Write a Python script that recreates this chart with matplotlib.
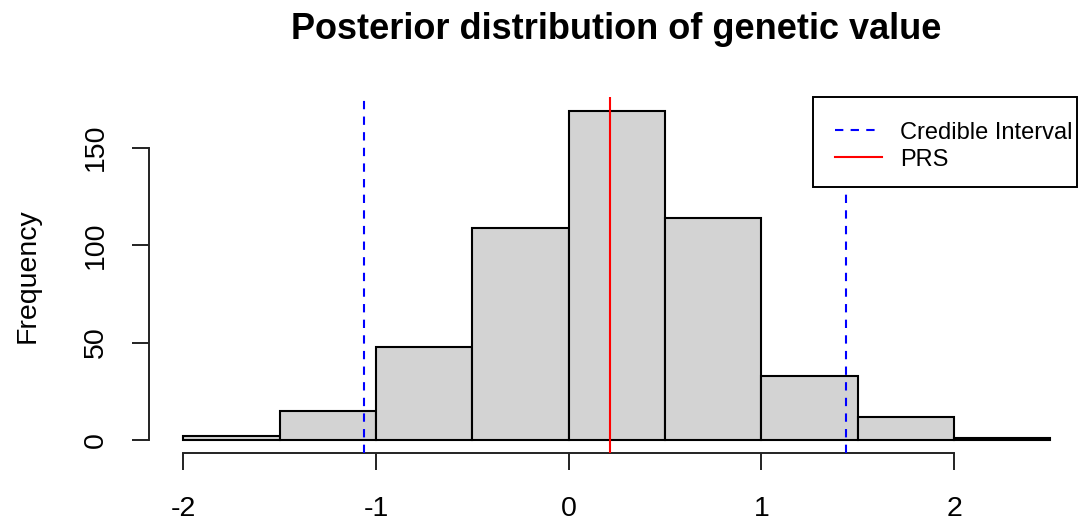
import matplotlib
matplotlib.use("Agg")
import matplotlib.pyplot as plt
from matplotlib.patches import Rectangle
from matplotlib.lines import Line2D

# Histogram of posterior draws (bin edges and counts per bin)
bin_edges = [-2.0, -1.5, -1.0, -0.5, 0.0, 0.5, 1.0, 1.5, 2.0, 2.5]
bin_counts = [2, 15, 48, 109, 169, 114, 33, 12, 1]

# Summary statistics drawn as vertical reference lines
ci_lower = -1.062
ci_upper = 1.439
prs_value = 0.215

x_ticks = [-2, -1, 0, 1, 2]
y_ticks = [0, 50, 100, 150]
legend_labels = ["Credible Interval", "PRS"]

plt.rcParams["font.family"] = ["Liberation Sans", "DejaVu Sans"]

W, H = 1080, 522
fig = plt.figure(figsize=(W / 100, H / 100), dpi=100)


def fx(x):
    return x / W


def fy(y):
    return 1 - y / H


# plot region in pixels
left_px, right_px, top_px, bottom_px = 149, 1077, 97.4, 453.3
ax = fig.add_axes([fx(left_px), fy(bottom_px),
                   (right_px - left_px) / W, (bottom_px - top_px) / H])

widths = [b - a for a, b in zip(bin_edges[:-1], bin_edges[1:])]
ax.bar(bin_edges[:-1], bin_counts, width=widths, align="edge",
       color="#D3D3D3", edgecolor="black", linewidth=1.5, zorder=2)

ci_style = dict(color="#0000FF", linestyle=(0, (4, 3.5)), linewidth=1.5)
prs_style = dict(color="#FF0000", linestyle="-", linewidth=1.5)

ax.axvline(ci_lower, zorder=3, **ci_style)
ax.axvline(ci_upper, zorder=3, **ci_style)
ax.axvline(prs_value, zorder=3, **prs_style)

ymax = max(bin_counts)
ax.set_ylim(-0.04 * ymax, 1.04 * ymax)
ax.set_xlim(-2.178, 2.638)

for s in ("top", "right"):
    ax.spines[s].set_visible(False)
ax.spines["left"].set_bounds(0, 150)
ax.spines["bottom"].set_bounds(-2, 2)
for s in ("left", "bottom"):
    ax.spines[s].set_linewidth(1.4)
    ax.spines[s].set_color("#222222")

ax.set_xticks(x_ticks)
ax.set_xticklabels([str(v) for v in x_ticks])
ax.set_yticks(y_ticks)
ax.set_yticklabels([str(v) for v in y_ticks], rotation=90, va="center")
ax.tick_params(axis="both", direction="out", length=12, width=1.4,
               color="#222222", labelsize=20.5)
ax.tick_params(axis="x", pad=18.5)
ax.tick_params(axis="y", pad=17)

ax.set_ylabel("Frequency", fontsize=20.5)
ax.yaxis.set_label_coords(-0.117, 0.5)

# legend box in the top-right corner of the plot region
box_l, box_r, box_t, box_b = 813, 1077, 97.4, 187
fig.add_artist(Rectangle((fx(box_l), fy(box_b)), (box_r - box_l) / W,
                         (box_b - box_t) / H, transform=fig.transFigure,
                         facecolor="white", edgecolor="black", linewidth=1.4,
                         zorder=5))
rows = [(129.5, 139.3, ci_style, 877), (156.7, 166.5, prs_style, 882)]
for (ly, base, style, x_end), label in zip(rows, legend_labels):
    fig.add_artist(Line2D([fx(835), fx(x_end)], [fy(ly), fy(ly)],
                          transform=fig.transFigure, zorder=6, **style))
    fig.text(fx(900), fy(base), label, ha="left", va="baseline",
             fontsize=17, zorder=6)

fig.text(fx(616.5), fy(39), "Posterior distribution of genetic value",
         ha="center", va="baseline", fontsize=26, fontweight="bold")

fig.savefig("out.png", dpi=100)
